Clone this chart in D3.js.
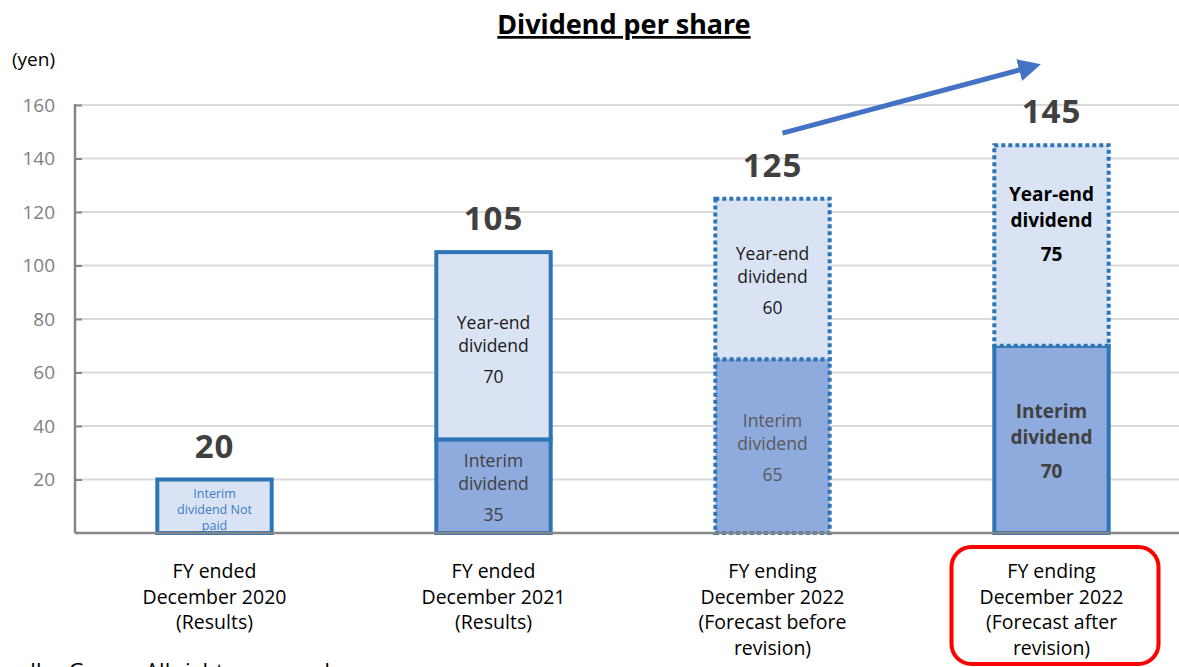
<!DOCTYPE html>
<html>
<head>
<meta charset="utf-8">
<script src="https://cdn.jsdelivr.net/npm/d3@7"></script>
<style>
  body { margin: 0; background: #fff; overflow: hidden; }
  text { font-family: "Open Sans", "Noto Sans", sans-serif; }
</style>
</head>
<body>
<div id="chart"></div>
<script>
// categories, values and labels
const categories = ['FY2020', 'FY2021', 'FY2022F', 'FY2022R']
const categoryLabels = [
  ['FY ended', 'December 2020', '(Results)'],
  ['FY ended', 'December 2021', '(Results)'],
  ['FY ending', 'December 2022', '(Forecast before', 'revision)'],
  ['FY ending', 'December 2022', '(Forecast after', 'revision)']
]
const interim = [0, 35, 65, 70]
const yearEnd = [20, 70, 60, 75]
const totals = [20, 105, 125, 145]
const interimForecast = [false, false, true, false]
const yearEndForecast = [false, false, true, true]
const yTicks = [20, 40, 60, 80, 100, 120, 140, 160]

const width = 1179
const height = 667
const margin = { top: 105, left: 75, right: 0, bottom: 134 }

const svg = d3.select('#chart')
  .append('svg')
  .attr('width', width)
  .attr('height', height)

const x = d3.scaleBand()
  .domain(categories)
  .range([margin.left, margin.left + 4 * 279])
  .paddingInner(0.59)
  .paddingOuter(0.295)

const y = d3.scaleLinear()
  .domain([0, 160])
  .range([height - margin.bottom, margin.top])

// title
svg.append('text')
  .attr('x', 624)
  .attr('y', 34)
  .attr('text-anchor', 'middle')
  .attr('font-size', 27)
  .attr('font-weight', 'bold')
  .attr('text-decoration', 'underline')
  .style('font-family', '"Noto Sans", sans-serif')
  .attr('fill', '#000')
  .text('Dividend per share')

svg.append('text')
  .attr('x', 12)
  .attr('y', 66)
  .attr('font-size', 19)
  .attr('fill', '#000')
  .text('(yen)')

// grid
svg.append('g')
  .selectAll('line')
  .data(yTicks)
  .join('line')
  .attr('x1', margin.left)
  .attr('x2', width)
  .attr('y1', d => y(d))
  .attr('y2', d => y(d))
  .attr('stroke', '#d9d9d9')
  .attr('stroke-width', 2)

const yAxis = d3.axisLeft(y)
  .tickValues(yTicks)
  .tickSize(-7)
  .tickPadding(20)

const gy = svg.append('g')
  .attr('transform', 'translate(' + margin.left + ',0)')
  .call(yAxis)
gy.select('.domain').remove()
gy.selectAll('.tick line').attr('stroke', '#868686').attr('stroke-width', 2)
gy.selectAll('.tick text')
  .attr('fill', '#7f7f7f')
  .attr('font-size', 19)
  .style('font-family', '"Open Sans", sans-serif')

svg.append('line')
  .attr('x1', margin.left)
  .attr('x2', margin.left)
  .attr('y1', y(160) - 1)
  .attr('y2', y(0))
  .attr('stroke', '#868686')
  .attr('stroke-width', 2.5)

// bars
const bars = svg.append('g')
const blue = '#2e75b6'

categories.forEach((c, i) => {
  const bx = x(c)
  const bw = x.bandwidth()
  if (interim[i] > 0) {
    bars.append('rect')
      .attr('x', bx)
      .attr('y', y(interim[i]))
      .attr('width', bw)
      .attr('height', y(0) - y(interim[i]))
      .attr('fill', '#8faadc')
      .attr('stroke', blue)
      .attr('stroke-width', 4)
      .attr('stroke-dasharray', interimForecast[i] ? '4,3' : null)
  }
  bars.append('rect')
    .attr('x', bx)
    .attr('y', y(totals[i]))
    .attr('width', bw)
    .attr('height', y(interim[i]) - y(totals[i]))
    .attr('fill', '#dae3f3')
    .attr('stroke', blue)
    .attr('stroke-width', 4)
    .attr('stroke-dasharray', yearEndForecast[i] ? '4,3' : null)

  svg.append('text')
    .attr('x', bx + bw / 2)
    .attr('y', y(totals[i]) - 22)
    .attr('text-anchor', 'middle')
    .attr('font-size', 33)
    .attr('font-weight', 'bold')
    .attr('letter-spacing', 1)
    .attr('fill', '#404040')
    .text(totals[i])
})

// segment labels
function segLabel(i, lo, hi, lines, color, bold, shift) {
  const cx = x(categories[i]) + x.bandwidth() / 2
  const cy = (y(lo) + y(hi)) / 2 + shift
  const offs = bold ? [-26, 0, 34] : [-25, -2, 29]
  lines.forEach((t, k) => {
    svg.append('text')
      .attr('x', cx)
      .attr('y', cy + offs[k])
      .attr('dy', '0.35em')
      .attr('text-anchor', 'middle')
      .attr('font-size', bold ? 19 : 17.5)
      .attr('font-weight', bold ? 'bold' : 'normal')
      .attr('fill', color)
      .text(t)
  })
}

// year 1: not paid
const c0 = x(categories[0]) + x.bandwidth() / 2
;['Interim', 'dividend Not', 'paid'].forEach((t, k) => {
  svg.append('text')
    .attr('x', c0)
    .attr('y', y(20) + 18 + k * 16)
    .attr('text-anchor', 'middle')
    .attr('font-size', 12.5)
    .attr('fill', '#3a7cc4')
    .text(t)
})

segLabel(1, interim[1], totals[1], ['Year-end', 'dividend', yearEnd[1]], '#1a1a1a', false, 2)
segLabel(1, 0, interim[1], ['Interim', 'dividend', interim[1]], '#404040', false, 0)
segLabel(2, interim[2], totals[2], ['Year-end', 'dividend', yearEnd[2]], '#1a1a1a', false, 0)
segLabel(2, 0, interim[2], ['Interim', 'dividend', interim[2]], '#595959', false, 0)
segLabel(3, interim[3], totals[3], ['Year-end', 'dividend', yearEnd[3]], '#000', true, -25)
segLabel(3, 0, interim[3], ['Interim', 'dividend', interim[3]], '#404040', true, -2)

// baseline
svg.append('line')
  .attr('x1', margin.left)
  .attr('x2', width)
  .attr('y1', y(0))
  .attr('y2', y(0))
  .attr('stroke', '#868686')
  .attr('stroke-width', 2.5)

// category labels
categoryLabels.forEach((lines, i) => {
  const cx = x(categories[i]) + x.bandwidth() / 2
  lines.forEach((t, k) => {
    svg.append('text')
      .attr('x', cx)
      .attr('y', 578 + k * 25.5)
      .attr('text-anchor', 'middle')
      .attr('font-size', 19.5)
      .attr('fill', '#000')
      .text(t)
  })
})

// red box around the revised forecast
const c3 = x(categories[3]) + x.bandwidth() / 2
svg.append('rect')
  .attr('x', c3 - 100)
  .attr('y', 547)
  .attr('width', 207)
  .attr('height', 117)
  .attr('rx', 20)
  .attr('fill', 'none')
  .attr('stroke', '#ff0000')
  .attr('stroke-width', 4)

// trend arrow
const defs = svg.append('defs')
defs.append('marker')
  .attr('id', 'arrowhead')
  .attr('viewBox', '0 0 10 10')
  .attr('refX', 2)
  .attr('refY', 5)
  .attr('markerWidth', 4.5)
  .attr('markerHeight', 4.5)
  .attr('orient', 'auto')
  .append('path')
  .attr('d', 'M0,0 L10,5 L0,10 Z')
  .attr('fill', '#4472c4')

const c2 = x(categories[2]) + x.bandwidth() / 2
svg.append('line')
  .attr('x1', c2 + 10)
  .attr('y1', y(149.5))
  .attr('x2', c3 - 28)
  .attr('y2', y(173.5))
  .attr('stroke', '#4472c4')
  .attr('stroke-width', 5)
  .attr('marker-end', 'url(#arrowhead)')

// footer, cut off by the page edge as in the source slide
svg.append('text')
  .attr('x', -6)
  .attr('y', 679)
  .attr('font-size', 22)
  .attr('fill', '#000')
  .text('nseller Group. All rights reserved.')
</script>
</body>
</html>
